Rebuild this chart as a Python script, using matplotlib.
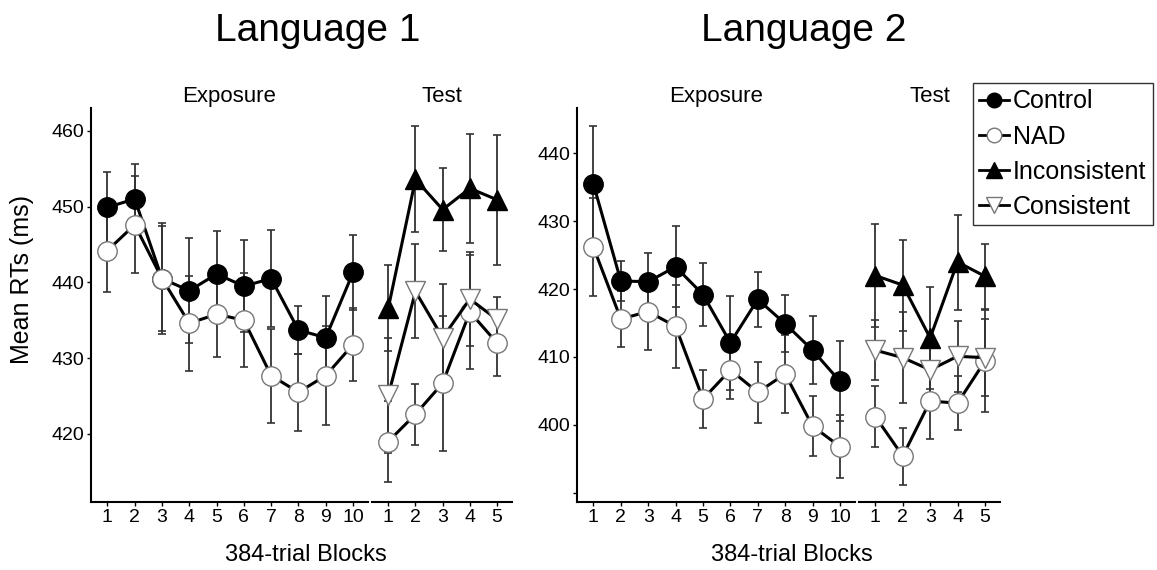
import matplotlib
matplotlib.use('Agg')
import matplotlib.pyplot as plt
from matplotlib.lines import Line2D

plt.rcParams['font.family'] = ['Liberation Sans', 'DejaVu Sans']

# exposure blocks and test blocks
exp_blocks = [1, 2, 3, 4, 5, 6, 7, 8, 9, 10]
test_blocks = [1, 2, 3, 4, 5]

# Language 1
l1_control = [449.9, 451.0, 440.5, 438.9, 441.1, 439.5, 440.5, 433.7, 432.7, 441.3]
l1_control_err = [4.7, 4.6, 7.3, 6.9, 5.7, 6.1, 6.4, 3.2, 5.5, 5.0]
l1_nad_exp = [444.2, 447.6, 440.5, 434.6, 435.8, 435.0, 427.7, 425.5, 427.7, 431.8]
l1_nad_exp_err = [5.5, 6.4, 6.9, 6.3, 5.6, 6.2, 6.2, 5.1, 6.5, 4.8]
l1_incons = [436.6, 453.6, 449.6, 452.4, 450.9]
l1_incons_err = [5.7, 7.0, 5.5, 7.2, 8.6]
l1_cons = [425.1, 438.8, 432.7, 437.8, 435.1]
l1_cons_err = [7.6, 6.2, 7.1, 6.2, 3.0]
l1_nad_test = [419.0, 422.6, 426.7, 436.1, 432.0]
l1_nad_test_err = [5.4, 4.0, 8.9, 7.5, 4.4]

# Language 2
l2_control = [435.5, 421.2, 421.1, 423.3, 419.2, 412.1, 418.5, 414.9, 411.0, 406.4]
l2_control_err = [8.5, 3.0, 4.3, 6.0, 4.6, 6.9, 4.1, 4.2, 5.0, 5.9]
l2_nad_exp = [426.2, 415.6, 416.7, 414.5, 403.8, 408.1, 404.8, 407.5, 399.8, 396.8]
l2_nad_exp_err = [7.2, 4.1, 5.6, 6.1, 4.3, 4.3, 4.5, 5.7, 4.4, 4.7]
l2_incons = [422.0, 420.6, 412.8, 424.0, 421.9]
l2_incons_err = [7.6, 6.7, 7.5, 7.0, 4.8]
l2_cons = [411.0, 409.9, 408.1, 410.1, 409.9]
l2_cons_err = [4.4, 6.7, 4.5, 5.2, 5.7]
l2_nad_test = [401.2, 395.4, 403.5, 403.2, 409.4]
l2_nad_test_err = [4.5, 4.2, 5.6, 4.0, 7.5]

styles = {
    'Control': dict(marker='o', mfc='black', mec='black', ms=14),
    'NAD': dict(marker='o', mfc='white', mec='#777777', ms=14, mew=1.0),
    'Inconsistent': dict(marker='^', mfc='black', mec='black', ms=15),
    'Consistent': dict(marker='v', mfc='white', mec='#777777', ms=15, mew=1.0),
}


def draw_series(ax, x, y, err, name):
    ax.errorbar(x, y, yerr=err, fmt='none', ecolor='#333333', elinewidth=1.3,
                capsize=3, capthick=1.2, zorder=2)
    ax.plot(x, y, color='black', lw=2.2, zorder=3, **styles[name])


def style_axes(ax, ylim, yticks, ylabels, left_spine, nblocks):
    ax.set_ylim(*ylim)
    ax.set_xlim(0.4, nblocks + 0.55)
    ax.set_xticks(range(1, nblocks + 1))
    ax.tick_params(axis='both', labelsize=14, length=3, width=1, pad=2)
    for s in ['top', 'right']:
        ax.spines[s].set_visible(False)
    ax.spines['bottom'].set_linewidth(1.5)
    if left_spine:
        ax.spines['left'].set_linewidth(1.5)
        ax.set_yticks(yticks)
        ax.set_yticklabels(ylabels)
    else:
        ax.spines['left'].set_visible(False)
        ax.set_yticks([])


fig = plt.figure(figsize=(11.57, 5.70), dpi=100)
bottom, height = 0.119, 0.6915

ax1 = fig.add_axes([0.0787, bottom, 0.2394, height])
ax2 = fig.add_axes([0.3215, bottom, 0.1210, height])
ax3 = fig.add_axes([0.4987, bottom, 0.2403, height])
ax4 = fig.add_axes([0.7424, bottom, 0.1219, height])

draw_series(ax1, exp_blocks, l1_control, l1_control_err, 'Control')
draw_series(ax1, exp_blocks, l1_nad_exp, l1_nad_exp_err, 'NAD')
draw_series(ax2, test_blocks, l1_nad_test, l1_nad_test_err, 'NAD')
draw_series(ax2, test_blocks, l1_incons, l1_incons_err, 'Inconsistent')
draw_series(ax2, test_blocks, l1_cons, l1_cons_err, 'Consistent')

draw_series(ax3, exp_blocks, l2_control, l2_control_err, 'Control')
draw_series(ax3, exp_blocks, l2_nad_exp, l2_nad_exp_err, 'NAD')
draw_series(ax4, test_blocks, l2_nad_test, l2_nad_test_err, 'NAD')
draw_series(ax4, test_blocks, l2_incons, l2_incons_err, 'Inconsistent')
draw_series(ax4, test_blocks, l2_cons, l2_cons_err, 'Consistent')

l1_lim = (411.0, 463.0)
l2_lim = (388.6, 446.7)
l1_ticks = [420, 430, 440, 450, 460]
l2_ticks = [390, 400, 410, 420, 430, 440]
style_axes(ax1, l1_lim, l1_ticks, [str(t) for t in l1_ticks], True, 10)
style_axes(ax2, l1_lim, [], [], False, 5)
style_axes(ax3, l2_lim, l2_ticks, [''] + [str(t) for t in l2_ticks[1:]], True, 10)
style_axes(ax4, l2_lim, [], [], False, 5)

ax1.set_title('Exposure', fontsize=16, pad=4)
ax2.set_title('Test', fontsize=16, pad=4)
ax3.set_title('Exposure', fontsize=16, pad=4)
ax4.set_title('Test', fontsize=16, pad=4)

fig.text(0.275, 0.945, 'Language 1', fontsize=28, ha='center', va='center')
fig.text(0.695, 0.945, 'Language 2', fontsize=28, ha='center', va='center')
fig.text(0.019, 0.509, 'Mean RTs (ms)', fontsize=18, rotation=90,
         ha='center', va='center')
fig.text(0.264, 0.026, '384-trial Blocks', fontsize=17, ha='center', va='center')
fig.text(0.684, 0.026, '384-trial Blocks', fontsize=17, ha='center', va='center')

handles = [Line2D([], [], color='black', lw=2, **styles[n]) for n in styles]
leg = fig.legend(handles, list(styles), loc='upper left',
                 bbox_to_anchor=(0.841, 0.854), fontsize=18, markerscale=0.75,
                 frameon=True, fancybox=False, edgecolor='black',
                 handlelength=1.2, handletextpad=0.15, labelspacing=0.45,
                 borderpad=0.25, borderaxespad=0)
leg.get_frame().set_linewidth(1.0)

fig.savefig('out.png', dpi=100)
